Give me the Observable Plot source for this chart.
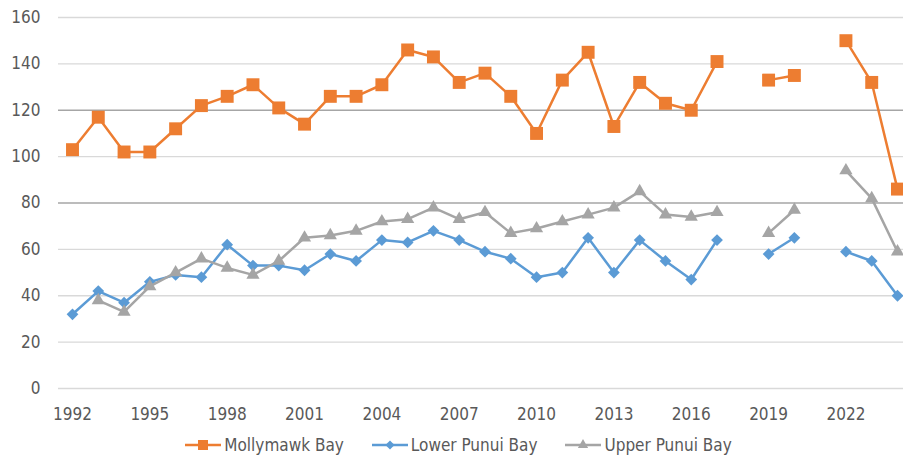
<!DOCTYPE html>
<html>
<head>
<meta charset="utf-8">
<script src="https://cdn.jsdelivr.net/npm/d3@7"></script>
<script src="https://cdn.jsdelivr.net/npm/@observablehq/plot@0.6"></script>
<style>
  html, body { margin: 0; padding: 0; background: #fff; }
  body { width: 903px; height: 457px; overflow: hidden; font-family: "DejaVu Sans Condensed", sans-serif; }
  #legend { display: flex; justify-content: center; align-items: center; gap: 28px; margin-left: 14px; height: 40px; font-size: 17px; color: #595959; }
  #legend .item { display: flex; align-items: center; gap: 3px; }
</style>
</head>
<body>
<div id="chart"></div>
<div id="legend"></div>
<script>
const years = [1992,1993,1994,1995,1996,1997,1998,1999,2000,2001,2002,2003,2004,2005,2006,2007,2008,2009,2010,2011,2012,2013,2014,2015,2016,2017,2018,2019,2020,2021,2022,2023,2024];
const mollymawk = [103,117,102,102,112,122,126,131,121,114,126,126,131,146,143,132,136,126,110,133,145,113,132,123,120,141,null,133,135,null,150,132,86];
const lowerPunui = [32,42,37,46,49,48,62,53,53,51,58,55,64,63,68,64,59,56,48,50,65,50,64,55,47,64,null,58,65,null,59,55,40];
const upperPunui = [null,38,33,44,50,56,52,49,55,65,66,68,72,73,78,73,76,67,69,72,75,78,85,75,74,76,null,67,77,null,94,82,59];
const seriesNames = ["Mollymawk Bay", "Lower Punui Bay", "Upper Punui Bay"];
const yTicks = [0,20,40,60,80,100,120,140,160];
const xTicks = [1992,1995,1998,2001,2004,2007,2010,2013,2016,2019,2022];

const colors = ["#ED7D31", "#5B9BD5", "#A5A5A5"];
const symbols = ["square", "diamond2", "triangle"];
const radii = [7.3, 5.3, 4.9];

const allSeries = [mollymawk, lowerPunui, upperPunui];
const data = allSeries.map((vals, i) => years.map((yr, j) => ({year: yr, value: vals[j], series: seriesNames[i]})));

const marks = [
  Plot.ruleY(yTicks, {stroke: d => (d === 80 || d === 120) ? "#a6a6a6" : "#d9d9d9", strokeWidth: 1.3}),
  Plot.axisY({ticks: yTicks, tickSize: 0, tickPadding: 18, fontSize: 17, label: null}),
  Plot.axisX({ticks: xTicks, tickSize: 0, tickPadding: 19, fontSize: 17, label: null, tickFormat: d => String(d)})
];
data.forEach((d, i) => {
  marks.push(Plot.line(d, {x: "year", y: "value", stroke: colors[i], strokeWidth: 2.5}));
  marks.push(Plot.dot(d.filter(p => p.value != null), {x: "year", y: "value", symbol: symbols[i], fill: colors[i], r: radii[i], stroke: "none"}));
});

const chart = Plot.plot({
  width: 903,
  height: 425,
  marginLeft: 58,
  marginRight: 0,
  marginTop: 17,
  marginBottom: 37,
  x: {type: "linear", domain: [1991.457, 2024.233]},
  y: {domain: [0, 160]},
  style: {fontFamily: '"DejaVu Sans Condensed", sans-serif', color: "#595959", background: "#fff"},
  marks
});
document.getElementById("chart").appendChild(chart);

const legend = document.getElementById("legend");
const symMap = {square: d3.symbolSquare, diamond2: d3.symbolDiamond2, triangle: d3.symbolTriangle};
seriesNames.forEach((name, i) => {
  const item = document.createElement("div");
  item.className = "item";
  const sw = d3.create("svg").attr("width", 36).attr("height", 14);
  sw.append("line").attr("x1", 0).attr("x2", 36).attr("y1", 7).attr("y2", 7).attr("stroke", colors[i]).attr("stroke-width", 2.5);
  sw.append("path").attr("transform", "translate(18,7)").attr("fill", colors[i])
    .attr("d", d3.symbol(symMap[symbols[i]], Math.PI * radii[i] * radii[i] * 0.6)());
  item.appendChild(sw.node());
  const t = document.createElement("span");
  t.textContent = name;
  item.appendChild(t);
  legend.appendChild(item);
});
</script>
</body>
</html>
